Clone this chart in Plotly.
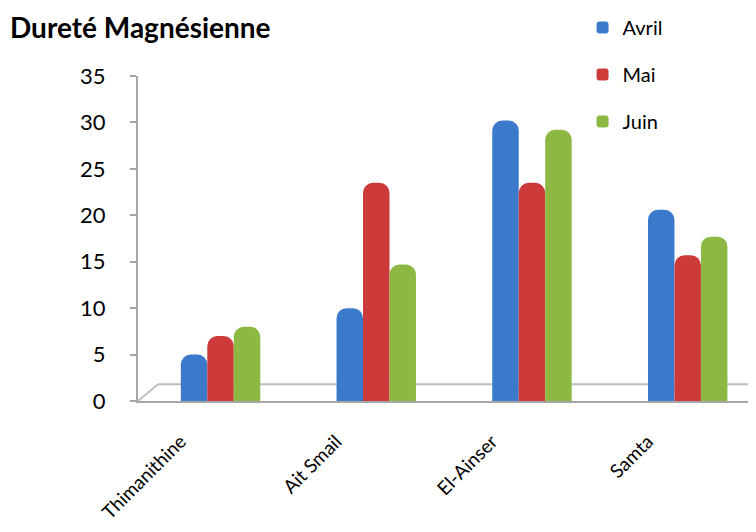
import plotly.graph_objects as go

categories = ["Thimanithine", "Ait Smail", "El-Ainser", "Samta"]
avril = [5, 10, 30.2, 20.6]
mai = [7, 23.5, 23.5, 15.7]
juin = [8, 14.7, 29.2, 17.7]
series_names = ["Avril", "Mai", "Juin"]
colors = ["#3B79CB", "#CC3B3A", "#8DB843"]
y_ticks = [0, 5, 10, 15, 20, 25, 30, 35]

FONT = "Lato"
fig = go.Figure()
for name, vals, col in zip(series_names, [avril, mai, juin], colors):
    fig.add_trace(go.Bar(
        x=list(range(len(categories))), y=vals, name=name, legendgroup=name,
        marker=dict(color=col, line=dict(width=0)),
    ))

fig.update_layout(
    width=756, height=532,
    paper_bgcolor="white", plot_bgcolor="white",
    margin=dict(l=130, r=0, t=68, b=139, autoexpand=False),
    barmode="group", bargap=0.49, bargroupgap=0.0, barcornerradius=10,
    title=dict(text="<b>Dureté Magnésienne</b>", font=dict(family=FONT, size=28, color="black"),
               xref="container", yref="container", x=0.0, y=0.962,
               xanchor="left", yanchor="middle", pad=dict(l=2)),
    legend=dict(xref="container", yref="container", x=0.76, y=1.006,
                xanchor="left", yanchor="top", font=dict(family=FONT, size=20, color="black"),
                traceorder="grouped", tracegroupgap=18, itemwidth=30, bgcolor="rgba(0,0,0,0)"),
    showlegend=True,
)
fig.update_xaxes(
    range=[-0.53, 3.49], tickmode="array", tickvals=list(range(len(categories))),
    ticktext=categories, tickangle=-45, showgrid=False, zeroline=False,
    showline=True, linecolor="#A6A6A6", linewidth=2, ticks="", automargin=False,
    tickfont=dict(family=FONT, size=19, color="black"),
    ticklabelshift=-40, ticklabelstandoff=20,
)
fig.update_yaxes(
    range=[0, 35], tickvals=y_ticks, showgrid=False, zeroline=False,
    showline=True, linecolor="#A6A6A6", linewidth=2, ticks="outside", ticklen=6,
    tickcolor="#A6A6A6", tickwidth=2, automargin=False,
    tickfont=dict(family=FONT, size=22, color="black"), ticklabelstandoff=20,
)
# 3D floor outline
fig.add_shape(type="line", xref="paper", yref="y", x0=0.032, x1=1.0, y0=1.8, y1=1.8,
              line=dict(color="#BFBFBF", width=2), layer="below")
fig.add_shape(type="line", xref="paper", yref="y", x0=0.0, x1=0.032, y0=0, y1=1.8,
              line=dict(color="#BFBFBF", width=2), layer="below")
fig.write_html("out.html")
